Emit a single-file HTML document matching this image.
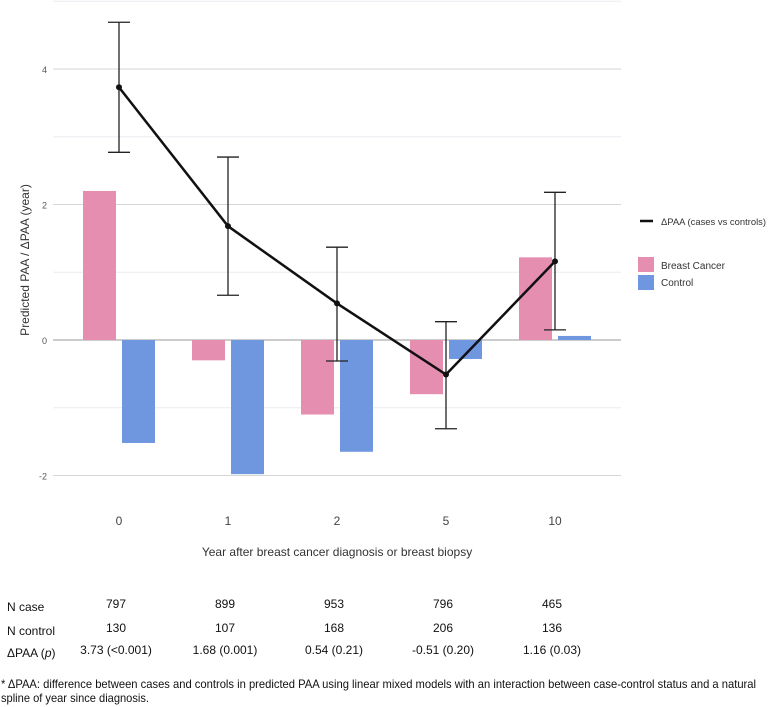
<!DOCTYPE html>
<html><head><meta charset="utf-8"><style>
html,body{margin:0;padding:0;background:#fff;}
svg{display:block;font-family:"Liberation Sans",sans-serif;}
</style></head><body>
<svg id="chart" width="768" height="707" viewBox="0 0 768 707" xmlns="http://www.w3.org/2000/svg">
<g id="grid"></g>
<g id="bars"></g>
<g id="line"></g>
<g id="axes"></g>
<text transform="translate(29,260) rotate(-90)" text-anchor="middle" font-size="12" fill="#333">Predicted PAA / ΔPAA (year)</text>
<text x="337" y="556" text-anchor="middle" font-size="12" fill="#333">Year after breast cancer diagnosis or breast biopsy</text>
<g>
<line x1="640" y1="221" x2="653" y2="221" stroke="#111" stroke-width="2.5"/>
<text x="661" y="225" font-size="9.5" fill="#333" textLength="105" lengthAdjust="spacingAndGlyphs">ΔPAA (cases vs controls)</text>
<rect x="638" y="257" width="16" height="15" fill="#e68eb0"/>
<text x="661" y="269" font-size="10" fill="#333">Breast Cancer</text>
<rect x="638" y="275" width="16" height="15" fill="#6f97e0"/>
<text x="661" y="286" font-size="10" fill="#333">Control</text>
</g>
<g id="table" font-size="12" fill="#111"></g>
<text x="1" y="688" font-size="12" fill="#111" textLength="755" lengthAdjust="spacingAndGlyphs">* ΔPAA: difference between cases and controls in predicted PAA using linear mixed models with an interaction between case-control status and a natural</text>
<text x="1" y="702" font-size="12" fill="#111" textLength="148" lengthAdjust="spacingAndGlyphs">spline of year since diagnosis.</text>
</svg>
<script>
const categories = ["0","1","2","5","10"];
const breastCancer = [2.2, -0.3, -1.1, -0.8, 1.22];
const control = [-1.52, -1.98, -1.65, -0.28, 0.06];
const delta = [3.73, 1.68, 0.54, -0.51, 1.16];
const deltaLow = [2.77, 0.66, -0.31, -1.31, 0.15];
const deltaHigh = [4.69, 2.70, 1.37, 0.27, 2.18];
const nCase = ["797","899","953","796","465"];
const nControl = ["130","107","168","206","136"];
const deltaLabels = ["3.73 (<0.001)","1.68 (0.001)","0.54 (0.21)","-0.51 (0.20)","1.16 (0.03)"];
const yTicks = [-2, 0, 2, 4];
const yMinor = [-1, 1, 3, 5];

const NS = "http://www.w3.org/2000/svg";
const X0 = 53, X1 = 621;
function y(v){ return 340 - v * 67.75; }
function x(i){ return 119 + i * 109; }
function mk(tag, attrs, parent){ const e = document.createElementNS(NS, tag); for (const k in attrs) e.setAttribute(k, attrs[k]); parent.appendChild(e); return e; }

const grid = document.getElementById("grid");
yMinor.forEach(v => {
  const l = mk("line", {x1:X0, x2:X1, y1:y(v), y2:y(v), stroke:"#ececf2", "stroke-width":1}, grid);
  
  
});
yTicks.forEach(v => {
  const l = mk("line", {x1:X0, x2:X1, y1:y(v), y2:y(v), stroke: v===0 ? "#bbb" : "#d6d6d6", "stroke-width": v===0 ? 1.5 : 1}, grid);
  
  
  const t = mk("text", {x:47, y:y(v)+4, "text-anchor":"end", "font-size":9, fill:"#555"}, grid);
  t.textContent = v;
  
  
});

const bars = document.getElementById("bars");
const bw = 33;
categories.forEach((c, i) => {
  const b1 = mk("rect", {x:x(i)-36, y:Math.min(y(0), y(breastCancer[i])), width:bw, height:Math.abs(y(breastCancer[i]) - y(0)), fill:"#e68eb0"}, bars);
  
  
  const b2 = mk("rect", {x:x(i)+3, y:Math.min(y(0), y(control[i])), width:bw, height:Math.abs(y(control[i]) - y(0)), fill:"#6f97e0"}, bars);
  
  
  const t = mk("text", {x:x(i), y:525, "text-anchor":"middle", "font-size":12, fill:"#444"}, document.getElementById("axes"));
  t.textContent = c;
  
  
});

const lg = document.getElementById("line");
const p = mk("polyline", {points: delta.map((v,i) => x(i)+","+y(v)).join(" "), fill:"none", stroke:"#111", "stroke-width":2.5}, lg);


delta.forEach((v, i) => {
  const e = mk("path", {d:`M${x(i)},${y(deltaHigh[i])}V${y(deltaLow[i])}M${x(i)-11},${y(deltaHigh[i])}H${x(i)+11}M${x(i)-11},${y(deltaLow[i])}H${x(i)+11}`, stroke:"#222", "stroke-width":1.3, fill:"none"}, lg);
  
  
  const d = mk("circle", {cx:x(i), cy:y(v), r:3, fill:"#111"}, lg);
  
  
});

const tb = document.getElementById("table");
const rows = [["N case", nCase, 611], ["N control", nControl, 635], ["ΔPAA (p)", deltaLabels, 657]];
rows.forEach(r => {
  const lab = mk("text", {x:7, y:r[2]}, tb);
  if (r[0] === "ΔPAA (p)") { lab.innerHTML = 'ΔPAA (<tspan font-style="italic">p</tspan>)'; } else { lab.textContent = r[0]; }
  
  
  r[1].forEach((val, i) => {
    const t = mk("text", {x:x(i)-3, y:r[2]-3, "text-anchor":"middle"}, tb);
    t.textContent = val;
    
    
  });
});
</script>
</body></html>
